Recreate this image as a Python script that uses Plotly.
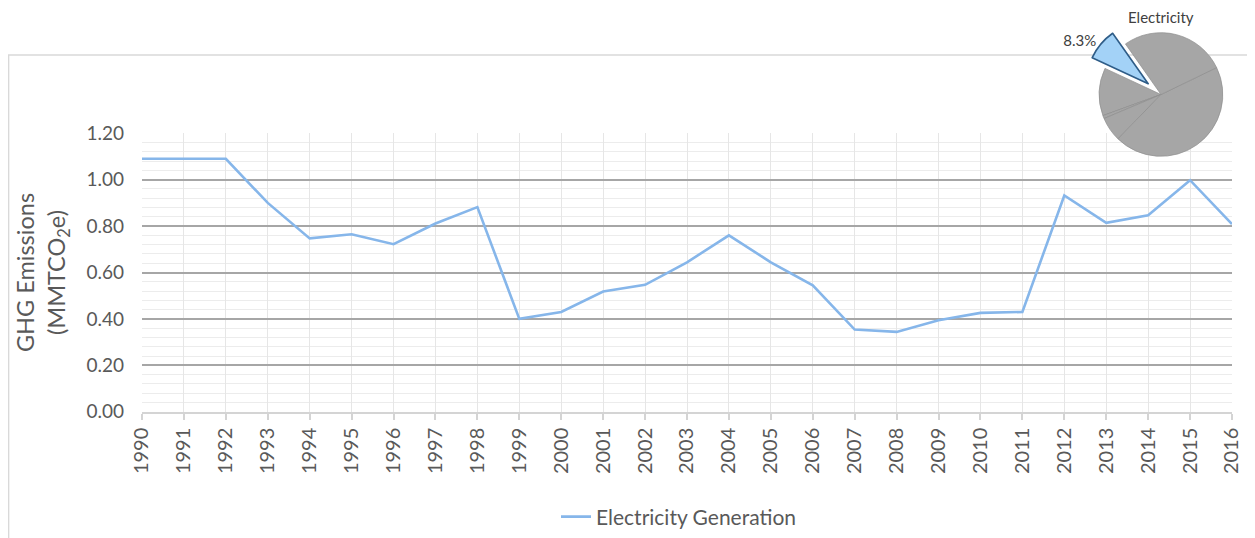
import plotly.graph_objs as go

years = list(range(1990, 2017))
electricity_generation = [
    1.09, 1.09, 1.09, 0.90, 0.747, 0.765, 0.722, 0.811, 0.882, 0.400,
    0.430, 0.518, 0.547, 0.644, 0.760, 0.644, 0.545, 0.354, 0.344, 0.394,
    0.426, 0.430, 0.932, 0.814, 0.847, 0.998, 0.809
]

# share of total emissions (inset pie)
sector_labels = ['Electricity', 'Other 1', 'Other 2', 'Other 3', 'Other 4', 'Other 5']
sector_shares = [8.3, 12.5, 0.8, 6.4, 44.4, 27.6]

y_ticks = [0.0, 0.2, 0.4, 0.6, 0.8, 1.0, 1.2]

# page body has an 8px margin, so the figure is made smaller and positions shifted
OFF = 8
W, H = 1255 - OFF, 538 - OFF
font_family = 'Lato, "Open Sans", sans-serif'
text_gray = '#595959'


def px(x):
    return (x - OFF) / float(W)


def py(y):
    return (H - (y - OFF)) / float(H)


line_trace = go.Scatter(
    x=years,
    y=electricity_generation,
    mode='lines',
    name='Electricity Generation',
    line=dict(color='#86b6ea', width=2.6),
    xaxis='x',
    yaxis='y'
)

pie_trace = go.Pie(
    labels=sector_labels,
    values=sector_shares,
    sort=False,
    direction='counterclockwise',
    rotation=-65,
    pull=[0.27, 0, 0, 0, 0, 0],
    texttemplate=['%{percent:.1%}', '', '', '', '', ''],
    textposition=['outside', 'none', 'none', 'none', 'none', 'none'],
    outsidetextfont=dict(size=15, color='#404040', family=font_family),
    marker=dict(
        colors=['#a3d2f7', '#a6a6a6', '#a6a6a6', '#a6a6a6', '#a6a6a6', '#a6a6a6'],
        line=dict(
            color=['#2f5d88', '#8e8e8e', '#8e8e8e', '#8e8e8e', '#8e8e8e', '#8e8e8e'],
            width=[1.6, 0.7, 0.7, 0.7, 0.7, 0.7]
        )
    ),
    showlegend=False,
    domain=dict(
        x=[px(1082), px(1240)],
        y=[py(173), py(16)]
    ),
    hoverinfo='label+percent'
)

layout = go.Layout(
    width=W,
    height=H,
    margin=dict(l=0, r=0, t=0, b=0, autoexpand=False),
    paper_bgcolor='white',
    plot_bgcolor='white',
    font=dict(family=font_family, color=text_gray),
    xaxis=dict(
        domain=[px(142), px(1232)],
        range=[1990, 2016],
        dtick=1,
        tickangle=-90,
        tickfont=dict(size=20, color=text_gray),
        showgrid=True,
        gridcolor='#e6e6e6',
        gridwidth=1,
        showline=True,
        linecolor='#d4d4d4',
        linewidth=2,
        ticks='outside',
        ticklen=6,
        tickcolor='#d4d4d4',
        tickwidth=1.5,
        automargin=False,
        zeroline=False
    ),
    yaxis=dict(
        domain=[py(411.7), py(133.3)],
        range=[0, 1.2],
        tickvals=y_ticks,
        tickformat='.2f',
        tickfont=dict(size=19, color=text_gray),
        showgrid=True,
        gridcolor='#a6a6a6',
        gridwidth=1.6,
        minor=dict(dtick=0.04, showgrid=True, gridcolor='#ececec', gridwidth=1),
        zeroline=False,
        showline=False,
        ticklabelstandoff=17,
        automargin=False,
        title=dict(
            text='GHG Emissions<br>(MMTCO<sub>2</sub>e)',
            font=dict(size=23.5, color=text_gray),
            standoff=14
        )
    ),
    legend=dict(
        orientation='h',
        x=px(679),
        xanchor='center',
        y=py(517),
        yanchor='middle',
        font=dict(size=21, color=text_gray),
        bgcolor='rgba(0,0,0,0)'
    ),
    shapes=[
        dict(
            type='rect',
            xref='paper', yref='paper',
            x0=0.6 / W, x1=px(1253),
            y0=-0.05, y1=py(55),
            line=dict(color='#d9d9d9', width=1.5),
            layer='below'
        )
    ],
    annotations=[
        dict(
            text='Electricity',
            xref='paper', yref='paper',
            x=px(1161), y=py(17),
            xanchor='center', yanchor='middle',
            showarrow=False,
            font=dict(size=15, color='#404040')
        )
    ]
)

fig = go.Figure(data=[line_trace, pie_trace], layout=layout)
fig.write_html("out.html")
